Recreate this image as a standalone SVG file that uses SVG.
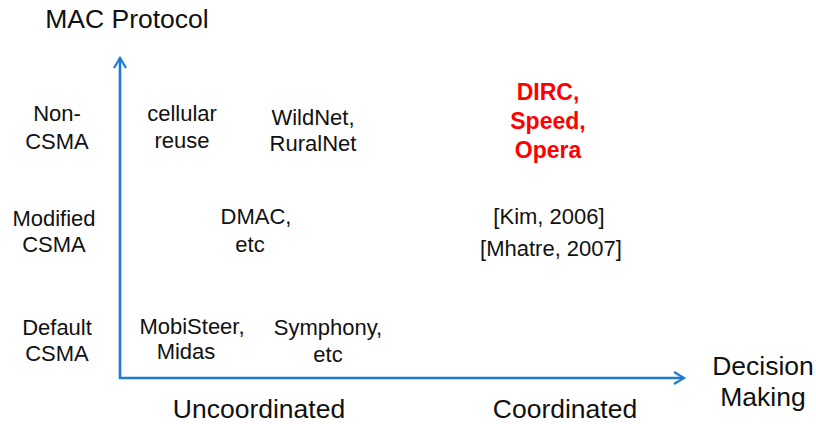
<svg xmlns="http://www.w3.org/2000/svg" width="816" height="424" viewBox="0 0 816 424">
<defs>
<marker id="arr" markerWidth="14" markerHeight="14" refX="11" refY="7" orient="auto" markerUnits="userSpaceOnUse">
<path d="M1,1 L11,7 L1,13" fill="none" stroke="#1E7BCF" stroke-width="2.2"/>
</marker>
</defs>
<style>
text{font-family:"Liberation Sans",Arial,sans-serif;fill:#111;text-anchor:middle}
.big{font-size:26.5px}
.lbl{font-size:22px}
.red{font-size:23px;font-weight:bold;fill:#FF0000}
.axis{stroke:#1E7BCF;stroke-width:2.6;fill:none}
</style>
<rect width="816" height="424" fill="#fff"/>
<g id="connectors">
<line class="axis" x1="120" y1="379" x2="120" y2="58" marker-end="url(#arr)"/>
<line class="axis" x1="119" y1="378" x2="684" y2="378" marker-end="url(#arr)"/>
</g>
<g id="title"><text class="big" x="127" y="28">MAC Protocol</text></g>
<g id="xaxis-label"><text class="big" x="763" y="375">Decision</text><text class="big" x="763" y="406">Making</text></g>
<g id="uncoord"><text class="big" x="259" y="418">Uncoordinated</text></g>
<g id="coord"><text class="big" x="565" y="418">Coordinated</text></g>
<g id="noncsma"><text class="lbl" x="57" y="121">Non-</text><text class="lbl" x="57" y="149">CSMA</text></g>
<g id="modcsma"><text class="lbl" x="54" y="226">Modified</text><text class="lbl" x="54" y="252">CSMA</text></g>
<g id="defcsma"><text class="lbl" x="57" y="335">Default</text><text class="lbl" x="57" y="361">CSMA</text></g>
<g id="cellular"><text class="lbl" x="182" y="121">cellular</text><text class="lbl" x="182" y="148">reuse</text></g>
<g id="wildnet"><text class="lbl" x="313" y="125">WildNet,</text><text class="lbl" x="313" y="151">RuralNet</text></g>
<g id="dirc"><text class="red" x="548" y="100">DIRC,</text><text class="red" x="548" y="129">Speed,</text><text class="red" x="548" y="158">Opera</text></g>
<g id="dmac"><text class="lbl" x="256" y="224">DMAC,</text><text class="lbl" x="250" y="252">etc</text></g>
<g id="kim"><text class="lbl" x="549" y="224">[Kim, 2006]</text></g>
<g id="mhatre"><text class="lbl" x="551" y="256">[Mhatre, 2007]</text></g>
<g id="mobisteer"><text class="lbl" x="192" y="334">MobiSteer,</text><text class="lbl" x="186" y="359">Midas</text></g>
<g id="symphony"><text class="lbl" x="328" y="335">Symphony,</text><text class="lbl" x="328" y="362">etc</text></g>
</svg>
